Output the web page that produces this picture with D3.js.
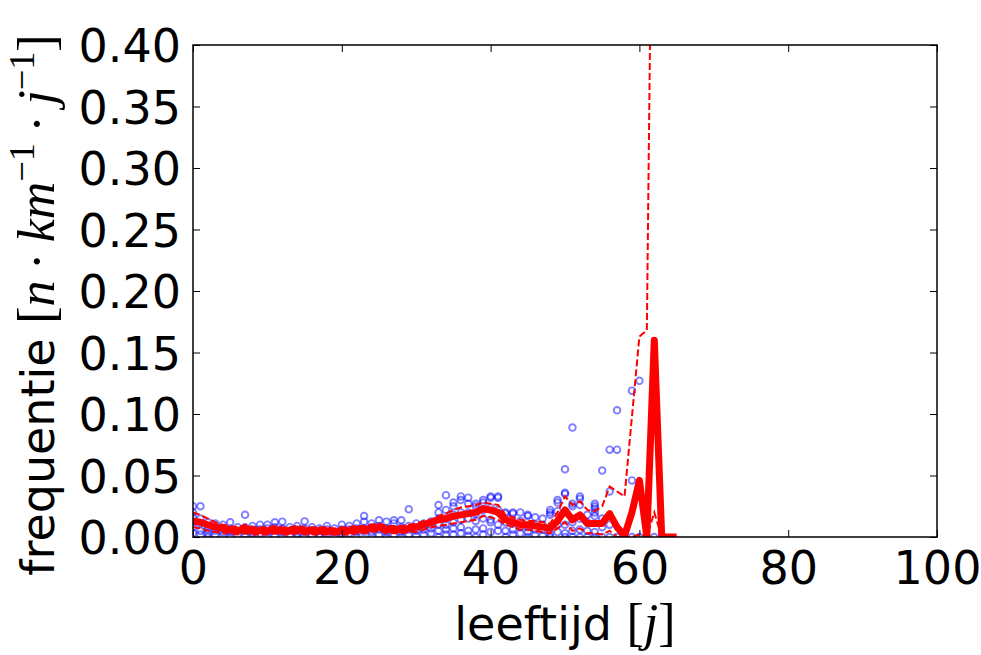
<!DOCTYPE html>
<html><head><meta charset="utf-8">
<script src="https://cdn.jsdelivr.net/npm/d3@7"></script>
<style>body{margin:0;background:#fff}svg{display:block}</style>
</head><body>
<svg id="c" width="981" height="655"></svg>
<script>
// ---- data ----
const ages = d3.range(0, 66);
const meanVals = [0.013,0.012,0.010,0.008,0.007,0.006,0.005,0.007,0.005,0.005,
  0.005,0.006,0.005,0.005,0.006,0.005,0.005,0.005,0.005,0.004,
  0.005,0.005,0.006,0.006,0.007,0.008,0.006,0.006,0.006,0.007,
  0.008,0.010,0.012,0.014,0.015,0.017,0.018,0.019,0.020,0.023,
  0.022,0.020,0.014,0.012,0.010,0.010,0.009,0.008,0.007,0.013,
  0.022,0.014,0.018,0.011,0.011,0.011,0.019,0.008,0.001,0.020,
  0.046,0.000,0.160,0.000,0.000,0.000];
const upperVals = [0.020,0.018,0.015,0.012,0.010,0.009,0.008,0.010,0.008,0.008,
  0.008,0.009,0.008,0.008,0.009,0.008,0.008,0.008,0.008,0.007,
  0.008,0.008,0.009,0.009,0.010,0.011,0.009,0.009,0.009,0.010,
  0.011,0.013,0.014,0.017,0.019,0.022,0.024,0.025,0.026,0.028,
  0.027,0.026,0.018,0.016,0.014,0.013,0.013,0.012,0.011,0.020,
  0.033,0.026,0.029,0.022,0.021,0.025,0.041,0.037,0.033,0.098,
  0.163,0.168,0.720];
const lowerVals = [0.008,0.007,0.005,0.004,0.003,0.003,0.002,0.003,0.002,0.002,
  0.002,0.003,0.002,0.002,0.003,0.002,0.002,0.002,0.002,0.002,
  0.002,0.002,0.003,0.003,0.004,0.005,0.003,0.003,0.003,0.004,
  0.004,0.006,0.008,0.009,0.010,0.011,0.012,0.013,0.014,0.017,
  0.016,0.014,0.010,0.008,0.006,0.006,0.005,0.004,0.003,0.007,
  0.012,0.005,0.007,0.003,0.003,0.002,0.005,0.000,0.000,0.000,
  0.002,0.000,0.020,0.000];
const scatterPts = [
 [0,0.025],[0,0.020],[0,0.016],[0,0.012],[0,0.008],[0,0.003],
 [1,0.025],[1,0.015],[1,0.011],[1,0.005],[1,0.002],
 [2,0.012],[2,0.009],[2,0.006],[2,0.003],[2,0],
 [3,0.011],[3,0.008],[3,0.005],[3,0.002],
 [4,0.010],[4,0.007],[4,0.004],[4,0.001],
 [5,0.012],[5,0.006],[5,0.004],[5,0],
 [6,0.008],[6,0.005],[6,0.002],
 [7,0.018],[7,0.008],[7,0.005],[7,0.0025],
 [8,0.009],[8,0.006],[8,0.003],[8,0],
 [9,0.010],[9,0.006],[9,0.003],
 [10,0.010],[10,0.007],[10,0.004],[10,0.001],
 [11,0.012],[11,0.008],[11,0.005],[11,0.002],
 [12,0.0125],[12,0.007],[12,0.004],[12,0],
 [13,0.008],[13,0.005],[13,0.002],
 [14,0.009],[14,0.006],[14,0.003],[14,0],
 [15,0.0127],[15,0.007],[15,0.004],[15,0.001],
 [16,0.008],[16,0.005],[16,0.002],
 [17,0.007],[17,0.005],[17,0.002],[17,0],
 [18,0.009],[18,0.006],[18,0.003],
 [19,0.007],[19,0.004],[19,0.001],
 [20,0.010],[20,0.006],[20,0.003],[20,0],
 [21,0.009],[21,0.006],[21,0.003],
 [22,0.011],[22,0.007],[22,0.004],[22,0],
 [23,0.017],[23,0.0125],[23,0.007],[23,0.004],
 [24,0.011],[24,0.008],[24,0.004],[24,0.001],
 [25,0.0136],[25,0.009],[25,0.006],[25,0.002],
 [26,0.0125],[26,0.007],[26,0.004],[26,0],
 [27,0.0136],[27,0.011],[27,0.006],[27,0.002],
 [28,0.0136],[28,0.008],[28,0.004],[28,0],
 [29,0.0225],[29,0.009],[29,0.006],[29,0.002],
 [30,0.011],[30,0.008],[30,0.005],[30,0.001],
 [31,0.011],[31,0.009],[31,0.006],[31,0.002],
 [32,0.0127],[32,0.010],[32,0.007],[32,0.003],
 [33,0.026],[33,0.020],[33,0.015],[33,0.010],[33,0.005],[33,0],
 [34,0.034],[34,0.022],[34,0.015],[34,0.010],[34,0.006],[34,0.002],
 [35,0.028],[35,0.025],[35,0.018],[35,0.012],[35,0.007],[35,0.002],
 [36,0.033],[36,0.030],[36,0.020],[36,0.014],[36,0.008],[36,0.003],
 [37,0.032],[37,0.027],[37,0.020],[37,0.015],[37,0.005],[37,0.001],
 [38,0.027],[38,0.025],[38,0.019],[38,0.013],[38,0.006],[38,0],
 [39,0.030],[39,0.028],[39,0.022],[39,0.015],[39,0.007],[39,0.002],
 [40,0.033],[40,0.032],[40,0.024],[40,0.014],[40,0.012],[40,0.004],
 [41,0.033],[41,0.032],[41,0.022],[41,0.010],[41,0.005],
 [42,0.020],[42,0.019],[42,0.012],[42,0.005],[42,0],
 [43,0.020],[43,0.019],[43,0.012],[43,0.006],[43,0.002],
 [44,0.020],[44,0.013],[44,0.008],[44,0.003],
 [45,0.018],[45,0.017],[45,0.008],[45,0.004],[45,0],
 [46,0.016],[46,0.010],[46,0.006],[46,0.002],
 [47,0.015],[47,0.010],[47,0.006],[47,0.001],
 [48,0.022],[48,0.020],[48,0.018],[48,0.008],[48,0.003],[48,0],
 [49,0.030],[49,0.028],[49,0.021],[49,0.010],[49,0.004],
 [50,0.055],[50,0.036],[50,0.035],[50,0.020],[50,0.010],[50,0.003],[50,0],
 [51,0.089],[51,0.027],[51,0.025],[51,0.012],[51,0.005],[51,0],
 [52,0.033],[52,0.031],[52,0.026],[52,0.015],[52,0.006],[52,0],
 [53,0.018],[53,0.012],[53,0.005],[53,0],
 [54,0.027],[54,0.025],[54,0.023],[54,0.020],[54,0.017],[54,0.004],[54,0],
 [55,0.054],[55,0.015],[55,0.008],[55,0],
 [56,0.071],[56,0.037],[56,0.010],[56,0],
 [57,0.103],[57,0.071],[57,0],
 [58,0.003],[58,0],
 [59,0.119],[59,0.046],[59,0],
 [60,0.127],[60,0],
 [61,0],[62,0]
];
const xTicks = [0,20,40,60,80,100];
const yTicks = [0,0.05,0.10,0.15,0.20,0.25,0.30,0.35,0.40];

// ---- layout ----
const L = 193, R = 937, T = 45, B = 537;
const svg = d3.select('#c');
const x = d3.scaleLinear().domain([0,100]).range([L,R]);
const y = d3.scaleLinear().domain([0,0.40]).range([B,T]);

svg.append('defs').append('clipPath').attr('id','clip')
  .append('rect').attr('x',L).attr('y',T).attr('width',R-L).attr('height',B-T);
const plot = svg.append('g').attr('clip-path','url(#clip)');

plot.selectAll('circle').data(scatterPts).join('circle')
  .attr('cx', d => x(d[0])).attr('cy', d => y(d[1])).attr('r', 3.3)
  .attr('fill','none').attr('stroke','blue').attr('stroke-width',1.9).attr('stroke-opacity',0.5);

const line = d3.line().x((d,i) => x(ages[i])).y(d => y(d));
plot.append('path').datum(upperVals).attr('d', line)
  .attr('fill','none').attr('stroke','red').attr('stroke-width',2).attr('stroke-dasharray','7,3');
plot.append('path').datum(lowerVals).attr('d', line)
  .attr('fill','none').attr('stroke','red').attr('stroke-width',2).attr('stroke-dasharray','7,3');
plot.append('path').datum(meanVals).attr('d', line)
  .attr('fill','none').attr('stroke','red').attr('stroke-width',7).attr('stroke-linejoin','round');

// axes (ticks inside, on all sides)
const tl = 7;
const fs = 46;
const axB = svg.append('g').attr('transform',`translate(0,${B})`)
  .call(d3.axisBottom(x).tickValues(xTicks).tickSizeInner(-tl).tickSizeOuter(0).tickPadding(14).tickFormat(d3.format('d')));
const axT = svg.append('g').attr('transform',`translate(0,${T})`)
  .call(d3.axisTop(x).tickValues(xTicks).tickSizeInner(-tl).tickSizeOuter(0).tickFormat(''));
const axL = svg.append('g').attr('transform',`translate(${L},0)`)
  .call(d3.axisLeft(y).tickValues(yTicks).tickSizeInner(-tl).tickSizeOuter(0).tickPadding(12).tickFormat(d3.format('.2f')));
const axR = svg.append('g').attr('transform',`translate(${R},0)`)
  .call(d3.axisRight(y).tickValues(yTicks).tickSizeInner(-tl).tickSizeOuter(0).tickFormat(''));
[axB,axT,axL,axR].forEach(a => {
  a.select('.domain').remove();
  a.selectAll('.tick line').attr('stroke','#000').attr('stroke-width',1);
  a.selectAll('text').attr('font-family','DejaVu Sans').attr('font-size',fs).attr('fill','#000');
});
axB.selectAll('text').attr('dy','0.71em');
axL.selectAll('text').attr('dy','0.36em');

svg.append('rect').attr('x',L).attr('y',T).attr('width',R-L).attr('height',B-T)
  .attr('fill','none').attr('stroke','#000').attr('stroke-width',1.5);

// x label
const mfs = 52;
const xl = svg.append('text').attr('x',(L+R)/2).attr('y',640).attr('text-anchor','middle')
  .attr('font-family','DejaVu Sans').attr('font-size',fs).attr('fill','#000');
xl.append('tspan').text('leeftijd ');
xl.append('tspan').attr('font-family','Liberation Serif').attr('font-size',mfs).text('[');
xl.append('tspan').attr('font-family','Liberation Serif').attr('font-size',mfs).attr('font-style','italic').text('j');
xl.append('tspan').attr('font-family','Liberation Serif').attr('font-size',mfs).text(']');

// y label
const yl = svg.append('text').attr('transform','translate(54,305) rotate(-90)').attr('text-anchor','middle')
  .attr('font-family','DejaVu Sans').attr('font-size',fs).attr('fill','#000');
const serif = (t, it) => yl.append('tspan').attr('font-family','Liberation Serif').attr('font-size',mfs)
  .attr('font-style', it ? 'italic' : 'normal').text(t);
yl.append('tspan').text('frequentie ');
serif('[');
serif('n', true);
serif('\u2009\u00B7\u2009');
serif('km', true);
yl.append('tspan').attr('font-family','Liberation Serif').attr('font-size',mfs*0.7).attr('dy',-20).text('\u22121');
serif('\u2009\u00B7\u2009').attr('dy',20);
serif('j', true);
yl.append('tspan').attr('font-family','Liberation Serif').attr('font-size',mfs*0.7).attr('dy',-20).text('\u22121');
serif(']').attr('dy',20);
</script>
</body></html>
